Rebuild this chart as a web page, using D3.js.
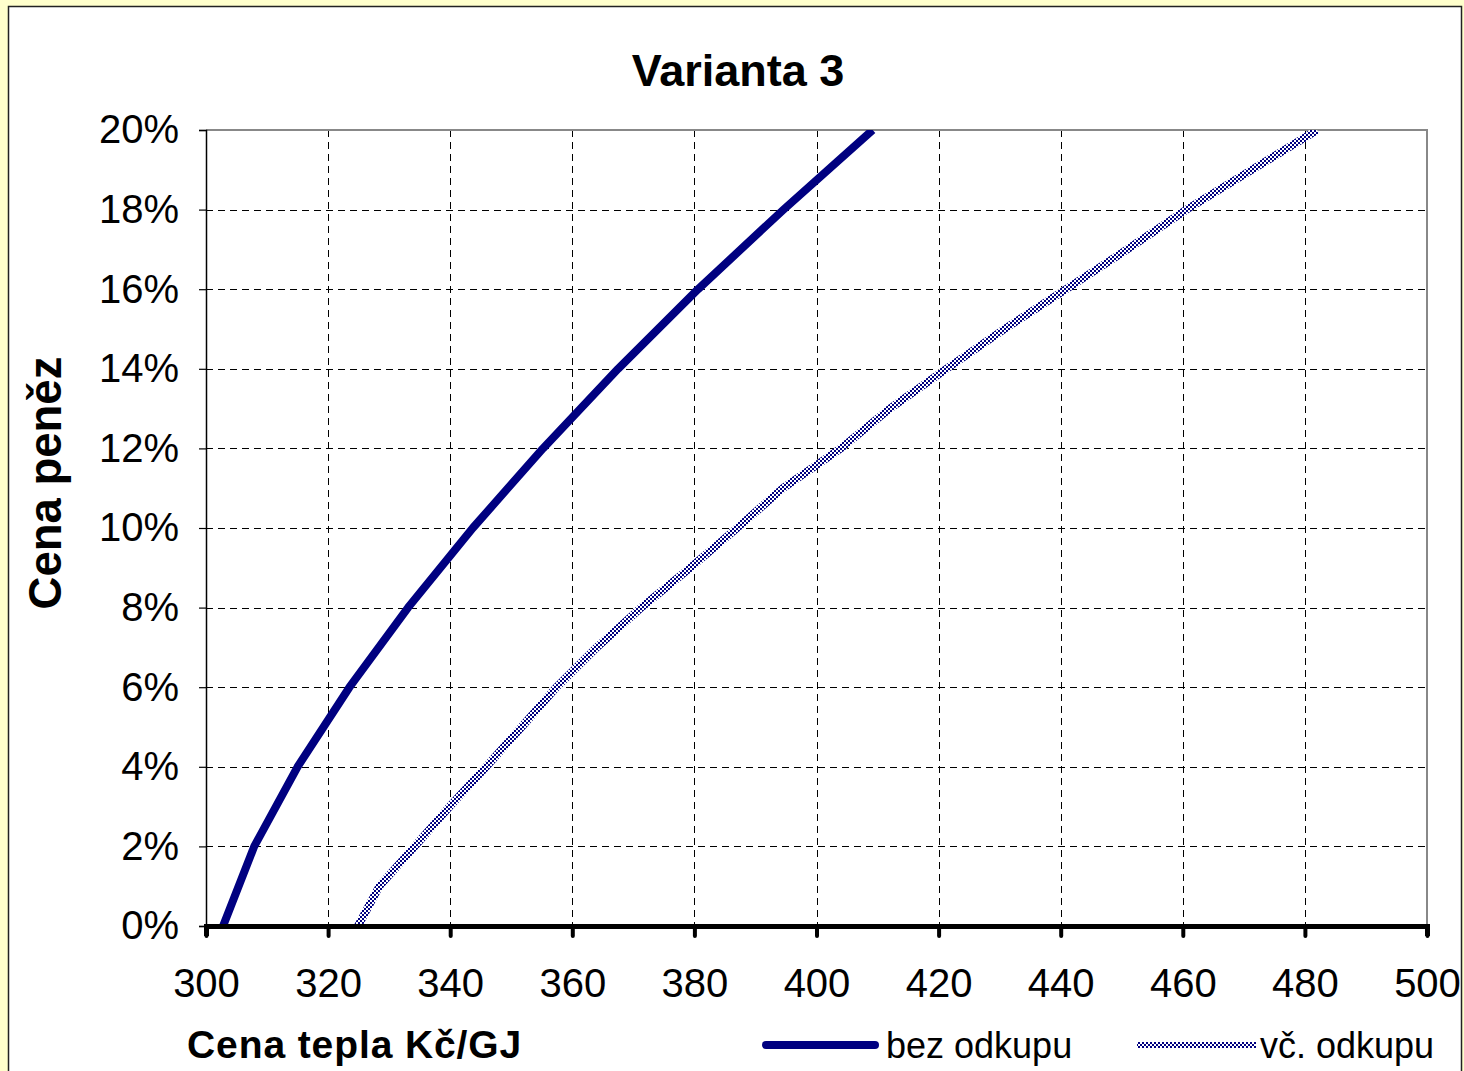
<!DOCTYPE html>
<html>
<head>
<meta charset="utf-8">
<script src="https://cdn.jsdelivr.net/npm/d3@7"></script>
<style>
  html, body { margin: 0; padding: 0; background: #FFFFCC; }
  text { font-family: Arial, "Liberation Sans", sans-serif; }
</style>
</head>
<body>
<div id="chart"></div>
<script>
// y values (Cena peněz, %) and matching x values (Cena tepla Kč/GJ)
const bezRate = [0, 2, 4, 6, 8, 10, 12, 14, 16, 18, 20];
const bezPrice = [302.8, 307.9, 315.0, 323.5, 333.1, 343.7, 355.2, 367.5, 380.6, 394.6, 409.2];

const vcRate = [0, 1, 2, 3, 4, 5, 6, 7, 8, 9, 10, 11, 12, 13, 14, 15, 16, 17, 18, 19, 20];
const vcPrice = [324.9, 328.4, 334.2, 339.9, 345.9, 351.7, 357.4, 364.0, 371.3, 379.3, 387.0,
                 394.5, 404.0, 412.0, 421.3, 430.8, 440.9, 450.9, 460.6, 471.3, 482.0];

const xTicks = [300, 320, 340, 360, 380, 400, 420, 440, 460, 480, 500];
const yTicks = [0, 2, 4, 6, 8, 10, 12, 14, 16, 18, 20];

const width = 1464, height = 1071;
const pLeft = 206, pRight = 1427, pTop = 130, pBottom = 926;
const navy = "#000080";

const svg = d3.select("#chart").append("svg")
    .attr("width", width)
    .attr("height", height);

// checkered pattern for the second series
const defs = svg.append("defs");
const pat = defs.append("pattern")
    .attr("id", "checker")
    .attr("patternUnits", "userSpaceOnUse")
    .attr("width", 4).attr("height", 4);
pat.append("rect").attr("width", 4).attr("height", 4).attr("fill", "#fff");
pat.append("rect").attr("width", 2).attr("height", 2).attr("fill", navy)
    .attr("shape-rendering", "crispEdges");
pat.append("rect").attr("x", 2).attr("y", 2).attr("width", 2).attr("height", 2).attr("fill", navy)
    .attr("shape-rendering", "crispEdges");

defs.append("clipPath").attr("id", "plotclip")
  .append("rect")
    .attr("x", pLeft).attr("y", pTop)
    .attr("width", pRight - pLeft).attr("height", pBottom - pTop);

// white chart area
svg.append("rect")
    .attr("x", 8.5).attr("y", 6.5)
    .attr("width", 1453).attr("height", 1080)
    .attr("fill", "#fff")
    .attr("stroke", "#222")
    .attr("stroke-width", 1.5);

const x = d3.scaleLinear().domain([300, 500]).range([pLeft, pRight]);
const y = d3.scaleLinear().domain([0, 20]).range([pBottom, pTop]);

// grid
const grid = svg.append("g")
    .attr("stroke", "#000")
    .attr("stroke-width", 1)
    .attr("stroke-dasharray", "7,5");
grid.selectAll(".gx")
    .data(xTicks.slice(1, -1))
    .enter().append("line")
    .attr("x1", d => Math.round(x(d)) + 0.5).attr("x2", d => Math.round(x(d)) + 0.5)
    .attr("y1", pTop).attr("y2", pBottom);
grid.selectAll(".gy")
    .data(yTicks.slice(1, -1))
    .enter().append("line")
    .attr("x1", pLeft).attr("x2", pRight)
    .attr("y1", d => Math.round(y(d)) + 0.5).attr("y2", d => Math.round(y(d)) + 0.5);

// plot border (top, right)
svg.append("path")
    .attr("d", `M${pLeft},${pTop}H${pRight}V${pBottom}`)
    .attr("fill", "none")
    .attr("stroke", "#888")
    .attr("stroke-width", 2);

// series
const line = d3.line()
    .x(d => x(d[0]))
    .y(d => y(d[1]));

const plot = svg.append("g").attr("clip-path", "url(#plotclip)");

plot.append("path")
    .datum(bezPrice.map((p, i) => [p, bezRate[i]]))
    .attr("d", line)
    .attr("fill", "none")
    .attr("stroke", navy)
    .attr("stroke-width", 8)
    .attr("stroke-linejoin", "round");

plot.append("path")
    .datum(vcPrice.map((p, i) => [p, vcRate[i]]))
    .attr("d", line)
    .attr("fill", "none")
    .attr("stroke", "url(#checker)")
    .attr("stroke-width", 8);

// y axis
const yAxis = svg.append("g")
    .attr("transform", `translate(${pLeft},0)`)
    .call(d3.axisLeft(y).tickValues(yTicks).tickSize(7).tickPadding(20).tickFormat(d => d + "%"));
yAxis.select(".domain").attr("stroke", "#000").attr("stroke-width", 1.5);
yAxis.selectAll(".tick line").attr("stroke", "#000").attr("stroke-width", 1.2);
yAxis.selectAll(".tick text")
    .attr("font-size", 40)
    .attr("font-family", "Arial, 'Liberation Sans', sans-serif")
    .attr("fill", "#000");

// x axis
const xAxis = svg.append("g")
    .attr("transform", `translate(0,${pBottom})`)
    .call(d3.axisBottom(x).tickValues(xTicks).tickSize(10).tickPadding(33));
xAxis.select(".domain").attr("stroke", "#000").attr("stroke-width", 5);
xAxis.selectAll(".tick line")
    .attr("stroke", "#000").attr("stroke-width", 4).attr("stroke-linecap", "round");
xAxis.selectAll(".tick text")
    .attr("font-size", 40)
    .attr("font-family", "Arial, 'Liberation Sans', sans-serif")
    .attr("fill", "#000");

// title and axis labels
svg.append("text")
    .attr("x", 738).attr("y", 86)
    .attr("text-anchor", "middle")
    .attr("font-size", 45)
    .attr("font-weight", "bold")
    .text("Varianta 3");

svg.append("text")
    .attr("transform", "translate(61,483) rotate(-90)")
    .attr("text-anchor", "middle")
    .attr("font-size", 45.5)
    .attr("font-weight", "bold")
    .text("Cena peněz");

svg.append("text")
    .attr("x", 187).attr("y", 1058)
    .attr("font-size", 39)
    .attr("letter-spacing", 0.9)
    .attr("font-weight", "bold")
    .text("Cena tepla Kč/GJ");

// legend
const legend = svg.append("g");
legend.append("line")
    .attr("x1", 766).attr("x2", 875)
    .attr("y1", 1045).attr("y2", 1045)
    .attr("stroke", navy).attr("stroke-width", 8)
    .attr("stroke-linecap", "round");
legend.append("text")
    .attr("x", 886).attr("y", 1058)
    .attr("font-size", 36)
    .text("bez odkupu");
legend.append("rect")
    .attr("x", 1137).attr("y", 1042)
    .attr("width", 119).attr("height", 6)
    .attr("fill", "url(#checker)");
legend.append("text")
    .attr("x", 1260).attr("y", 1058)
    .attr("font-size", 36)
    .text("vč. odkupu");
</script>
</body>
</html>
